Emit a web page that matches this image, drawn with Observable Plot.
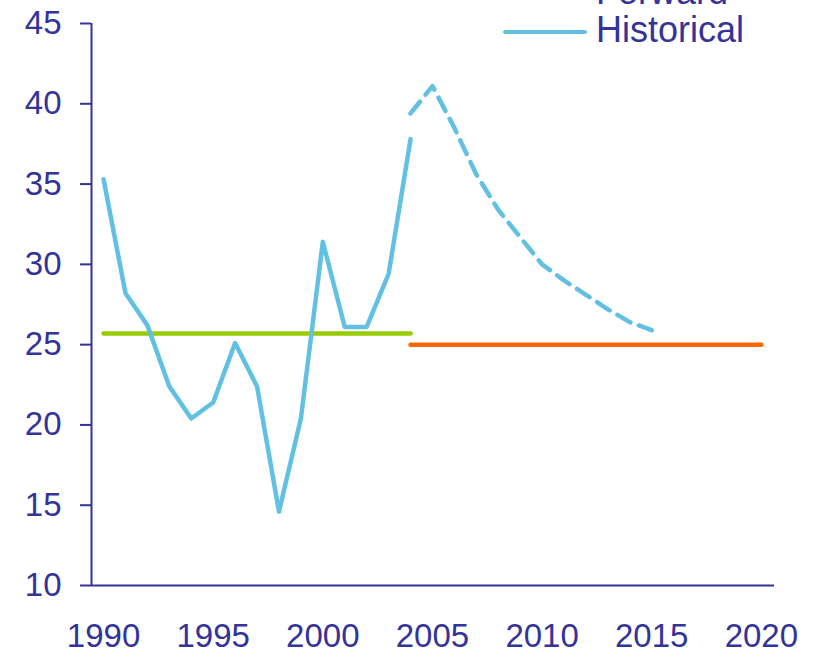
<!DOCTYPE html>
<html>
<head>
<meta charset="utf-8">
<script src="https://cdn.jsdelivr.net/npm/d3@7"></script>
<script src="https://cdn.jsdelivr.net/npm/@observablehq/plot@0.6"></script>
<style>
  html, body { margin: 0; padding: 0; background: #fff; }
  #wrap { position: relative; width: 821px; height: 657px; overflow: hidden; font-family: "Liberation Sans", Arial, sans-serif; color: #333399; }
  #wrap svg { display: block; }
  .legend-item { position: absolute; font-size: 36px; line-height: 1; white-space: nowrap; }
  .legend-swatch { position: absolute; height: 0; border-top: 4px solid #62C1E3; border-radius: 2px; }
</style>
</head>
<body>
<div id="wrap"></div>
<script>
const histYears = [1990, 1991, 1992, 1993, 1994, 1995, 1996, 1997, 1998, 1999, 2000, 2001, 2002, 2003, 2004];
const histValues = [35.3, 28.2, 26.2, 22.4, 20.4, 21.4, 25.1, 22.4, 14.6, 20.4, 31.4, 26.1, 26.1, 29.4, 37.8];
const fwdYears = [2004, 2005, 2006, 2007, 2008, 2009, 2010, 2011, 2012, 2013, 2014, 2015];
const fwdValues = [39.4, 41.1, 38.5, 35.6, 33.4, 31.7, 30.0, 29.0, 28.1, 27.2, 26.4, 25.9];
const histAvgYears = [1990, 2004];
const histAvgValue = 25.7;
const fwdAvgYears = [2004, 2020];
const fwdAvgValue = 25.0;
const xTicks = [1990, 1995, 2000, 2005, 2010, 2015, 2020];
const yTicks = [10, 15, 20, 25, 30, 35, 40, 45];
const legendLabels = ["Forward", "Historical"];

const xDomain = [1989.45, 2020.6];
const yDomain = [10, 45];

const hist = histYears.map((x, i) => ({x, y: histValues[i]}));
const fwd = fwdYears.map((x, i) => ({x, y: fwdValues[i]}));
const histAvg = histAvgYears.map(x => ({x, y: histAvgValue}));
const fwdAvg = fwdAvgYears.map(x => ({x, y: fwdAvgValue}));

const axisColor = "#333399";
const blue = "#62C1E3";

const chart = Plot.plot({
  width: 821,
  height: 657,
  marginLeft: 91,
  marginRight: 47,
  marginTop: 23,
  marginBottom: 72,
  style: {fontFamily: "'Liberation Sans', Arial, sans-serif", color: axisColor, background: "#fff", overflow: "visible"},
  x: {domain: xDomain, ticks: xTicks, tickFormat: d => String(d)},
  y: {domain: yDomain, ticks: yTicks},
  marks: [
    Plot.axisY({ticks: yTicks, tickSize: 11, tickPadding: 19, fontSize: 33, stroke: axisColor, strokeWidth: 2, fill: axisColor, label: null}),
    Plot.axisX({ticks: xTicks, tickSize: 0, tickPadding: 38, fontSize: 33, fill: axisColor, label: null, tickFormat: d => String(d)}),
    Plot.ruleY([yDomain[0]], {stroke: axisColor, strokeWidth: 2}),
    Plot.ruleX([xDomain[0]], {y1: yDomain[0], y2: yDomain[1], stroke: axisColor, strokeWidth: 2}),
    Plot.line(histAvg, {x: "x", y: "y", stroke: "#99CC00", strokeWidth: 4.5, strokeLinecap: "round"}),
    Plot.line(fwdAvg, {x: "x", y: "y", stroke: "#FF6600", strokeWidth: 4.5, strokeLinecap: "round"}),
    Plot.line(fwd, {x: "x", y: "y", stroke: blue, strokeWidth: 4.5, strokeDasharray: "15,9"}),
    Plot.line(hist, {x: "x", y: "y", stroke: blue, strokeWidth: 4.5, strokeLinejoin: "round", strokeLinecap: "round"})
  ]
});

const wrap = document.getElementById("wrap");
wrap.appendChild(chart);

// Legend (top-right, partially cut off at the top as in the reference)
const legendRows = [
  {label: legendLabels[0], dash: true, top: -32},
  {label: legendLabels[1], dash: false, top: 6}
];
for (const r of legendRows) {
  const sw = document.createElement("div");
  sw.className = "legend-swatch";
  sw.style.left = "503px";
  sw.style.width = "84px";
  sw.style.top = (r.top + 24) + "px";
  if (r.dash) sw.style.borderTopStyle = "dashed";
  wrap.appendChild(sw);
  const t = document.createElement("div");
  t.className = "legend-item";
  t.style.left = "596px";
  t.style.top = (r.top + 6) + "px";
  t.textContent = r.label;
  wrap.appendChild(t);
}
</script>
</body>
</html>
